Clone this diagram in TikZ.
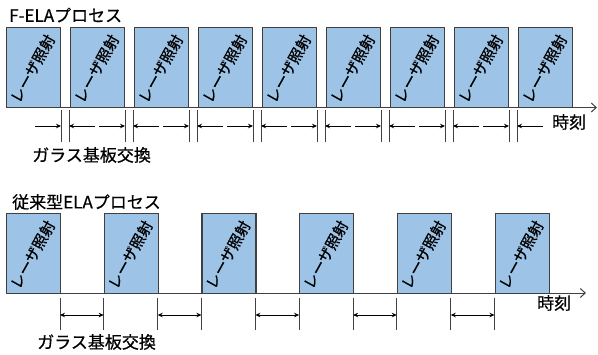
\documentclass[tikz,border=0pt]{standalone}
\usepackage{fontspec}
\setmainfont{Noto Sans CJK JP}[FakeBold=0.6]
\usetikzlibrary{arrows.meta}
\definecolor{boxfill}{HTML}{9DC3E6}
\definecolor{edgec}{HTML}{404040}
\begin{document}
\begin{tikzpicture}[x=1pt,y=-1pt,
  irr/.style={draw=edgec, line width=1.2pt, fill=boxfill, minimum width=54pt, minimum height=80pt, inner sep=0pt, anchor=north west},
  irrtext/.style={rotate=61, font=\fontsize{15}{15}\selectfont, inner sep=0pt},
  sepline/.style={draw=edgec, line width=1pt},
  dim/.style={-{Stealth[length=5pt,width=4.5pt]}, line width=0.9pt},
  dimboth/.style={{Stealth[length=5pt,width=4.5pt]}-{Stealth[length=5pt,width=4.5pt]}, line width=0.9pt},
  axisline/.style={draw=edgec, line width=1pt, -{Straight Barb[length=5pt,width=9pt]}},
  lbl/.style={font=\fontsize{17}{17}\selectfont, inner sep=0pt, anchor=west}
]
\useasboundingbox (0,0) rectangle (598,354);

% ---------------- F-ELA ----------------
\node[lbl] (title1) at (9,15) {F-ELAプロセス};
\foreach \i in {0,...,8}{
  \node[irr] (t\i) at ({6+64*\i},27) {};
  \node[irrtext] (tl\i) at ([xshift=-1pt,yshift=-1pt]t\i.center) {レーザ照射};
}
\coordinate (ax1s) at (6,107.5);
\coordinate (ax1e) at (597,107.5);
\draw[axisline] (ax1s) -- (ax1e);
\foreach \i in {0,...,8}{
  \coordinate (al\i) at ({6+64*\i-1},126);
  \coordinate (ar\i) at ({6+64*\i+55},126);
  \coordinate (am\i) at ({6+64*\i+27},126);
  \coordinate (alt\i) at ({6+64*\i-1},110);
  \coordinate (alb\i) at ({6+64*\i-1},142);
  \coordinate (art\i) at ({6+64*\i+55},110);
  \coordinate (arb\i) at ({6+64*\i+55},142);
}
\foreach \i in {1,...,8}{
  \draw[sepline] (alt\i) -- (alb\i);
  \draw[dim] ([xshift=-2pt]am\i) -- (al\i);
}
\foreach \i in {0,...,7}{
  \draw[sepline] (art\i) -- (arb\i);
  \draw[dim] ([xshift=2pt]am\i) -- (ar\i);
}
\node[lbl] (time1) at (552,122) {時刻};
\node[lbl] (swap1) at (32,155) {ガラス基板交換};

% ---------------- conventional ----------------
\node[lbl] (title2) at (12,202) {従来型ELAプロセス};
\foreach \i in {0,...,5}{
  \node[irr] (b\i) at ({6+97.7*\i},213) {};
  \node[irrtext] (bl\i) at ([xshift=-1pt,yshift=-1pt]b\i.center) {レーザ照射};
  \coordinate (bl\i t) at ({6+97.7*\i},298);
  \coordinate (bl\i b) at ({6+97.7*\i},330);
  \coordinate (bl\i m) at ({6+97.7*\i},315);
  \coordinate (br\i t) at ({60+97.7*\i},298);
  \coordinate (br\i b) at ({60+97.7*\i},330);
  \coordinate (br\i m) at ({60+97.7*\i},315);
}
\coordinate (ax2s) at (6,293);
\coordinate (ax2e) at (586,293);
\draw[axisline] (ax2s) -- (ax2e);
\foreach \i [evaluate=\i as \j using int(\i+1)] in {0,...,4}{
  \draw[sepline] (br\i t) -- (br\i b);
  \draw[sepline] (bl\j t) -- (bl\j b);
  \draw[dimboth] (br\i m) -- (bl\j m);
}
\node[lbl] (time2) at (537,303) {時刻};
\node[lbl] (swap2) at (37,342) {ガラス基板交換};
\end{tikzpicture}
\end{document}
